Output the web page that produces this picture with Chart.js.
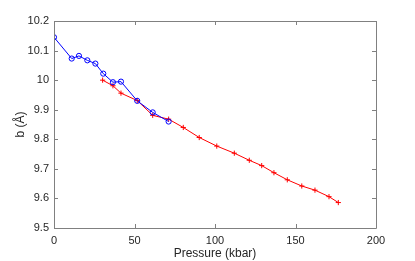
<!DOCTYPE html>
<html>
<head>
<meta charset="utf-8">
<script src="https://cdn.jsdelivr.net/npm/chart.js@4"></script>
<style>
html,body{margin:0;padding:0;background:#fff;}
#wrap{width:415px;height:261px;}
</style>
</head>
<body>
<div id="wrap"><canvas id="c" width="415" height="261"></canvas></div>
<script>
const bluePressure = [0, 11.0, 15.5, 20.7, 25.7, 30.6, 36.6, 41.6, 51.7, 61.3, 71.2];
const blueB = [10.145, 10.073, 10.082, 10.067, 10.056, 10.022, 9.993, 9.995, 9.930, 9.891, 9.860];
const redPressure = [30.2, 36.6, 41.6, 51.7, 61.3, 71.2, 80.3, 90.2, 101.1, 112.0, 121.3, 129.0, 136.6, 144.9, 153.9, 162.1, 170.8, 176.6];
const redB = [10.0, 9.981, 9.956, 9.931, 9.881, 9.868, 9.840, 9.806, 9.777, 9.753, 9.729, 9.711, 9.687, 9.663, 9.642, 9.628, 9.606, 9.586];
const xTicks = [0, 50, 100, 150, 200];
const yTicks = [9.5, 9.6, 9.7, 9.8, 9.9, 10.0, 10.1, 10.2];

const toPts = (xs, ys) => xs.map((x, i) => ({x: x, y: ys[i]}));

const boxPlugin = {
  id: 'box',
  afterDraw(chart) {
    const {ctx, chartArea: a, scales} = chart;
    ctx.save();
    ctx.strokeStyle = '#808080';
    ctx.lineWidth = 1;
    ctx.beginPath();
    ctx.rect(Math.round(a.left) + 0.5, Math.round(a.top) + 0.5, Math.round(a.right - a.left), Math.round(a.bottom - a.top));
    ctx.stroke();
    const L = 4;
    ctx.beginPath();
    xTicks.forEach(v => {
      const px = Math.round(scales.x.getPixelForValue(v)) + 0.5;
      ctx.moveTo(px, a.bottom); ctx.lineTo(px, a.bottom - L);
      ctx.moveTo(px, a.top); ctx.lineTo(px, a.top + L);
    });
    yTicks.forEach(v => {
      const py = Math.round(scales.y.getPixelForValue(v)) + 0.5;
      ctx.moveTo(a.left, py); ctx.lineTo(a.left + L, py);
      ctx.moveTo(a.right, py); ctx.lineTo(a.right - L, py);
    });
    ctx.stroke();
    ctx.restore();
  }
};

new Chart(document.getElementById('c'), {
  type: 'scatter',
  data: {
    datasets: [
      {
        data: toPts(bluePressure, blueB),
        showLine: true,
        borderColor: '#0000ff',
        backgroundColor: 'rgba(0,0,0,0)',
        borderWidth: 1,
        pointStyle: 'circle',
        pointRadius: 2.6,
        pointBorderWidth: 1,
        pointBorderColor: '#0000ff',
        pointBackgroundColor: 'rgba(0,0,0,0)'
      },
      {
        data: toPts(redPressure, redB),
        showLine: true,
        borderColor: '#ff0000',
        backgroundColor: 'rgba(0,0,0,0)',
        borderWidth: 1,
        pointStyle: 'cross',
        pointRadius: 2.6,
        pointBorderWidth: 1,
        pointBorderColor: '#ff0000'
      }
    ]
  },
  options: {
    responsive: false,
    animation: false,
    devicePixelRatio: 1,
    plugins: { legend: {display: false}, tooltip: {enabled: false} },
    layout: { padding: {left: 0, right: 39, top: 21, bottom: 0} },
    scales: {
      x: {
        type: 'linear', min: 0, max: 200,
        afterBuildTicks: s => { s.ticks = xTicks.map(v => ({value: v})); },
        afterFit: s => { s.height = 33; },
        grid: { display: false, drawTicks: false },
        border: { display: false },
        ticks: { color: '#262626', font: {family: 'Liberation Sans', size: 11}, padding: 6, maxRotation: 0, callback: v => String(v) },
        title: { display: true, text: 'Pressure (kbar)', color: '#262626', font: {family: 'Liberation Sans', size: 12}, padding: {top: 0, bottom: 0} }
      },
      y: {
        type: 'linear', min: 9.5, max: 10.2,
        afterBuildTicks: s => { s.ticks = yTicks.map(v => ({value: v})); },
        afterFit: s => { s.width = 54; },
        grid: { display: false, drawTicks: false },
        border: { display: false },
        ticks: { color: '#262626', font: {family: 'Liberation Sans', size: 11}, padding: 5, callback: v => (Math.round(v * 10) / 10).toString() },
        title: { display: true, text: 'b (Å)', color: '#262626', font: {family: 'Liberation Sans', size: 12}, padding: {top: 13, bottom: 0} }
      }
    }
  },
  plugins: [boxPlugin]
});
</script>
</body>
</html>
